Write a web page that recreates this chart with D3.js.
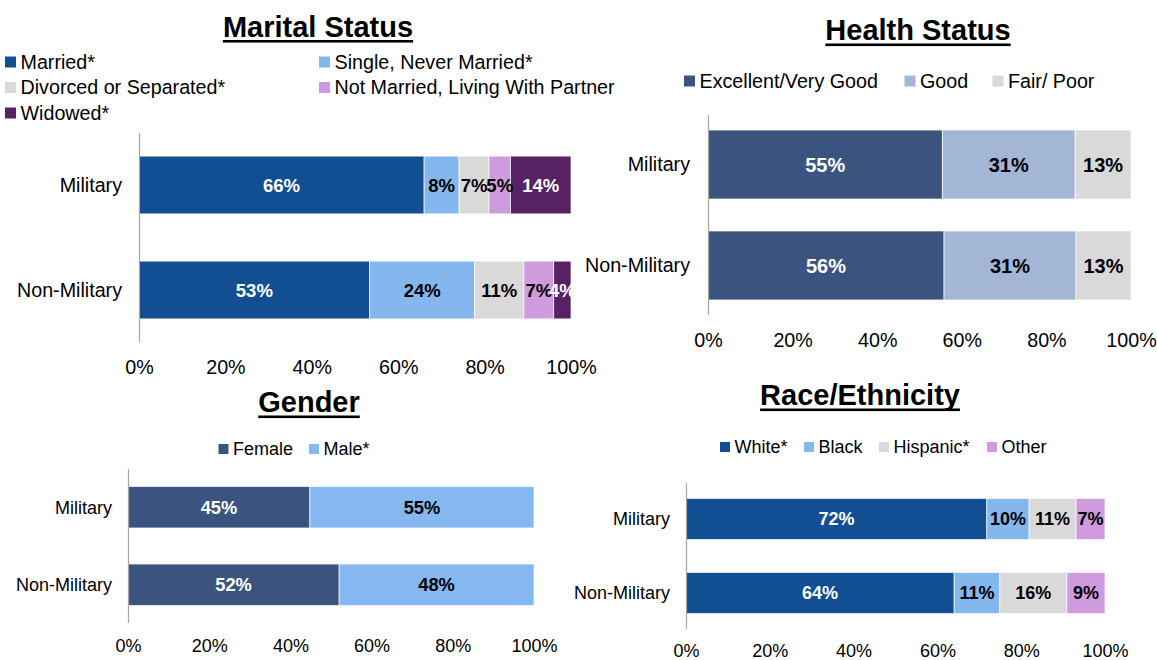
<!DOCTYPE html>
<html>
<head>
<meta charset="utf-8">
<script src="https://cdn.jsdelivr.net/npm/d3@7"></script>
<style>
    html, body { margin: 0; padding: 0; background: #fff; }
    svg { display: block; font-family: 'Liberation Sans', Arial, sans-serif; }
</style>
</head>
<body>
<svg id="chart" width="1157" height="660"></svg>
<script>
// shared
const groups = ['Military', 'Non-Military']
const tickValues = [0, 20, 40, 60, 80, 100]

// marital status
const maritalKeys = ['Married*', 'Single, Never Married*', 'Divorced or Separated*', 'Not Married, Living With Partner', 'Widowed*']
const maritalMilitary = [66.0, 8.1, 6.9, 5.0, 14.0]
const maritalNonMilitary = [53.4, 24.3, 11.4, 6.9, 4.0]
const maritalColors = ['#124E92', '#85B7EF', '#D9D9D9', '#CF9ADE', '#582163']

// health status
const healthKeys = ['Excellent/Very Good', 'Good', 'Fair/ Poor']
const healthMilitary = [55.4, 31.4, 13.2]
const healthNonMilitary = [55.8, 31.2, 13.0]
const healthColors = ['#3A547F', '#A3B6D5', '#D9D9D9']

// gender
const genderKeys = ['Female', 'Male*']
const genderMilitary = [44.8, 55.2]
const genderNonMilitary = [52.0, 48.0]
const genderColors = ['#3A547F', '#85B8F0']

// race / ethnicity
const raceKeys = ['White*', 'Black', 'Hispanic*', 'Other']
const raceMilitary = [71.8, 10.1, 11.2, 6.9]
const raceNonMilitary = [64.0, 10.9, 16.0, 9.1]
const raceColors = ['#124E92', '#85B7EF', '#D9D9D9', '#CF9ADE']

const DARK = ['#124E92', '#582163', '#3A547F']

const svg = d3.select('#chart')

function drawPanel(p) {
    const g = svg.append('g').attr('class', 'panel')

    const rows = groups.map((name, i) => {
        const row = { group: name }
        p.keys.forEach((k, j) => { row[k] = p.values[i][j] })
        return row
    })
    const stack = d3.stack().keys(p.keys)(rows)
    const color = d3.scaleOrdinal().domain(p.keys).range(p.colors)

    const x = d3.scaleLinear().domain([0, 100]).range(p.xRange)
    const y = d3.scaleBand().domain(groups).range(p.yRange)
        .paddingInner(p.padInner).paddingOuter(p.padOuter)

    // title with underline
    const title = g.append('text')
        .attr('x', p.title.x)
        .attr('y', p.title.y)
        .attr('text-anchor', 'middle')
        .style('font-size', p.title.size + 'px')
        .style('font-weight', 'bold')
        .attr('fill', '#000')
        .text(p.title.text)
    const tw = title.node().getComputedTextLength()
    g.append('rect')
        .attr('x', p.title.x - tw / 2)
        .attr('y', p.title.y + 3.5)
        .attr('width', tw)
        .attr('height', 2.6)
        .attr('fill', '#000')

    // legend
    const leg = g.append('g').selectAll('g')
        .data(p.keys)
        .join('g')
        .attr('transform', (d, i) => `translate(${p.legend[i][0]},${p.legend[i][1]})`)
    leg.append('rect')
        .attr('x', 0)
        .attr('y', -p.swatch / 2)
        .attr('width', p.swatch)
        .attr('height', p.swatch)
        .attr('fill', d => color(d))
    leg.append('text')
        .attr('x', p.swatch + 4.5)
        .attr('dy', '0.35em')
        .style('font-size', p.fontSize + 'px')
        .attr('fill', '#000')
        .text(d => d)

    // bars
    g.append('g').selectAll('g.series')
        .data(stack)
        .join('g')
        .attr('class', 'series')
        .attr('fill', d => color(d.key))
        .selectAll('rect')
        .data(d => d)
        .join('rect')
        .attr('x', d => x(d[0]))
        .attr('y', d => y(d.data.group))
        .attr('width', d => x(d[1]) - x(d[0]))
        .attr('height', y.bandwidth())
        .attr('stroke', '#ffffff')
        .attr('stroke-width', 0.8)
        .attr('stroke-opacity', 0.85)

    // data labels
    g.append('g').selectAll('g.lbl')
        .data(stack)
        .join('g')
        .attr('class', 'lbl')
        .attr('fill', d => DARK.includes(color(d.key)) ? '#fff' : '#000')
        .selectAll('text')
        .data(d => d)
        .join('text')
        .attr('x', d => (x(d[0]) + x(d[1])) / 2)
        .attr('y', d => y(d.data.group) + y.bandwidth() / 2)
        .attr('dy', '0.36em')
        .attr('text-anchor', 'middle')
        .style('font-size', p.labelSize + 'px')
        .style('font-weight', 'bold')
        .text(d => Math.round(d[1] - d[0]) + '%')

    // category axis
    g.append('g')
        .attr('transform', `translate(${p.xRange[0]},0)`)
        .call(d3.axisLeft(y).tickSize(0).tickSizeOuter(0).tickPadding(p.catPad))
        .call(a => a.select('.domain').attr('stroke', '#A6A6A6').attr('stroke-width', 1.2)
            .attr('d', `M0.5,${p.yRange[0]}V${p.yRange[1]}`))
        .call(a => a.selectAll('text')
            .attr('dy', '0.35em')
            .style('font-size', p.fontSize + 'px')
            .attr('fill', '#000'))
        .attr('font-family', null)
        .attr('font-size', null)

    // value axis
    g.append('g')
        .attr('transform', `translate(0,${p.tickY})`)
        .call(d3.axisBottom(x).tickValues(tickValues).tickFormat(d => d + '%').tickSize(0))
        .call(a => a.select('.domain').remove())
        .call(a => a.selectAll('text')
            .attr('y', 0)
            .attr('dy', '0.35em')
            .style('font-size', p.fontSize + 'px')
            .attr('fill', '#000'))
        .attr('font-family', null)
        .attr('font-size', null)
}

drawPanel({
    keys: maritalKeys,
    values: [maritalMilitary, maritalNonMilitary],
    colors: maritalColors,
    xRange: [139, 571],
    yRange: [133, 342],
    padInner: 0.45,
    padOuter: 0.22,
    tickY: 367,
    catPad: 17,
    fontSize: 19.7,
    labelSize: 18.5,
    swatch: 11,
    title: { text: 'Marital Status', x: 318, y: 36.5, size: 29 },
    legend: [[5, 62], [319, 62], [5, 87.5], [319, 87.5], [5, 113]]
})

drawPanel({
    keys: healthKeys,
    values: [healthMilitary, healthNonMilitary],
    colors: healthColors,
    xRange: [708, 1131],
    yRange: [115, 315],
    padInner: 0.317,
    padOuter: 0.149,
    tickY: 340,
    catPad: 18,
    fontSize: 19.7,
    labelSize: 20,
    swatch: 11,
    title: { text: 'Health Status', x: 918, y: 40, size: 29 },
    legend: [[684, 81], [904.5, 81], [992.5, 81]]
})

drawPanel({
    keys: genderKeys,
    values: [genderMilitary, genderNonMilitary],
    colors: genderColors,
    xRange: [128, 534],
    yRange: [469, 623],
    padInner: 0.465,
    padOuter: 0.226,
    tickY: 646,
    catPad: 16,
    fontSize: 18,
    labelSize: 18.3,
    swatch: 10,
    title: { text: 'Gender', x: 309, y: 412, size: 29 },
    legend: [[218.5, 449], [309, 449]]
})

drawPanel({
    keys: raceKeys,
    values: [raceMilitary, raceNonMilitary],
    colors: raceColors,
    xRange: [686, 1105],
    yRange: [483, 629],
    padInner: 0.446,
    padOuter: 0.209,
    tickY: 651,
    catPad: 16,
    fontSize: 18,
    labelSize: 18,
    swatch: 10,
    title: { text: 'Race/Ethnicity', x: 860, y: 405, size: 29 },
    legend: [[720, 447], [804, 447], [879, 447], [987, 447]]
})
</script>
</body>
</html>
